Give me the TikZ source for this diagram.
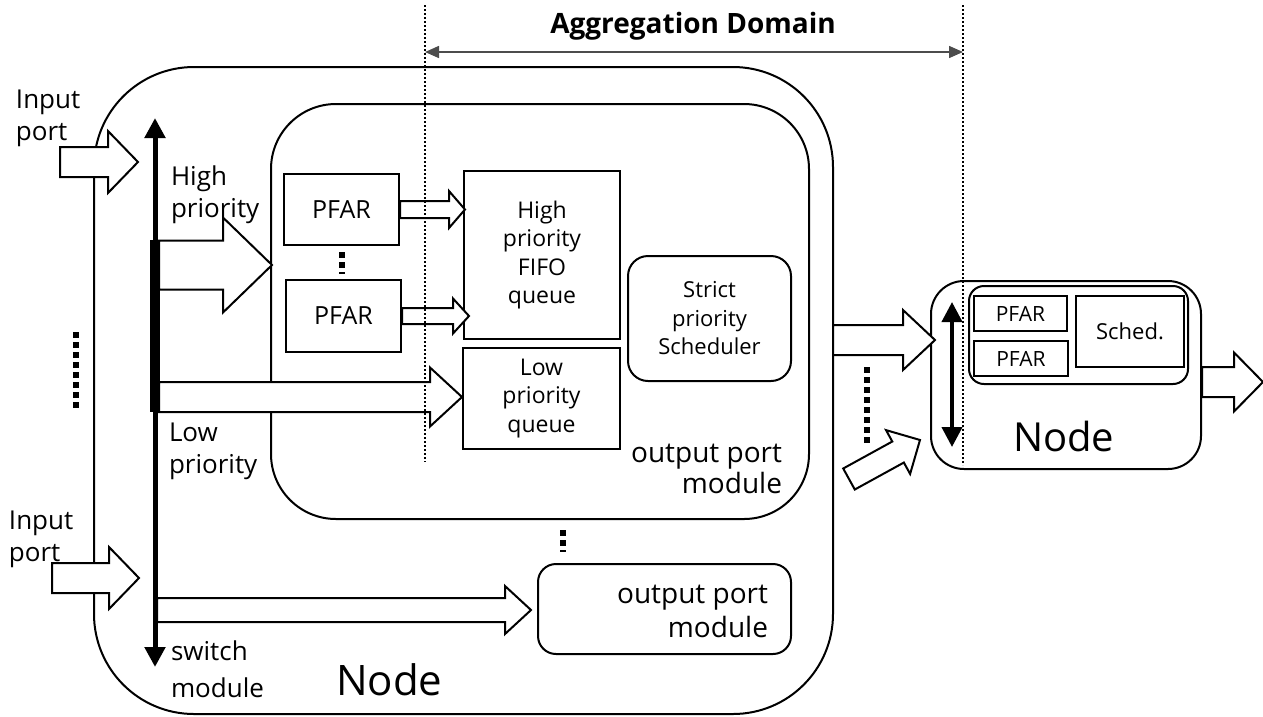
\documentclass[tikz,border=0pt]{standalone}
\usepackage{fontspec}
\setmainfont{Open Sans}
\usetikzlibrary{arrows.meta}
\tikzset{
  pics/harrow/.style n args={4}{code={
    \draw[line width=2pt, fill=white, line join=miter]
      (0,-#2) -- ({#1-#4},-#2) -- ({#1-#4},-#3) -- (#1,0) -- ({#1-#4},#3) -- ({#1-#4},#2) -- (0,#2) -- cycle;
  }},
}
\begin{document}
\begin{tikzpicture}[x=1pt,y=-1pt,line width=2pt,
  box/.style={draw, line width=2pt, anchor=north west, inner sep=0pt, align=center, font=\fontsize{23}{28.5}\selectfont},
  rbox/.style={box, rounded corners=#1},
  lbl/.style={inner sep=0pt, align=left, font=\fontsize{26}{32}\selectfont},
  dotcol/.style={line width=6pt, dash pattern=on 6pt off 4pt},
  domline/.style={line width=1.6pt, dash pattern=on 2pt off 2pt},
  bigtip/.style={{Triangle[length=20pt,width=20pt]}-{Triangle[length=20pt,width=20pt]}},
]
\useasboundingbox (0,0) rectangle (1263,716);

% outer node
\node[rbox=100pt, minimum width=739pt, minimum height=647pt] (outer) at (93,66) {};
% output port module (big)
\node[rbox=65pt, minimum width=538pt, minimum height=415pt] (opm) at (270,103) {};
% PFAR boxes
\node[box, minimum width=115pt, minimum height=71pt, font=\fontsize{25}{30}\selectfont] (pfar1) at (283,173) {PFAR};
\node[box, minimum width=115pt, minimum height=72pt, font=\fontsize{25}{30}\selectfont] (pfar2) at (285,279) {PFAR};
% queues
\node[box, minimum width=156pt, minimum height=168pt] (hq) at (463,170) {High\\priority\\FIFO\\queue};
\node[box, minimum width=157pt, minimum height=101pt] (lq) at (462,347) {Low\\priority\\queue};
\node[rbox=20pt, minimum width=163pt, minimum height=125pt, font=\fontsize{22}{28.5}\selectfont] (sched) at (627,255) {Strict\\priority\\Scheduler};
% lower output port module
\node[rbox=18pt, minimum width=253pt, minimum height=90pt] (opm2) at (537,563) {};

% texts
\node[lbl, anchor=north west] (in1) at (15,89) {Input\\port};
\node[lbl, anchor=north west] (in2) at (8,510) {Input\\port};
\node[lbl, anchor=north west] (hp) at (170,165) {High\\priority};
\node[lbl, anchor=north west] (lp) at (168,422) {Low\\priority};
\node[lbl, anchor=north west, font=\fontsize{26}{37}\selectfont] (swm) at (170,640) {switch\\module};
\node[lbl, anchor=south east, align=right, font=\fontsize{28}{31}\selectfont] (opmt) at (783,495) {output port\\module};
\node[lbl, anchor=south east, align=right, font=\fontsize{28}{34}\selectfont] (opm2t) at (769,639) {output port\\module};
\node[inner sep=0pt, anchor=base west, font=\fontsize{42}{48}\selectfont] (nodeL) at (335,695) {Node};
\node[inner sep=0pt, anchor=base, font=\bfseries\fontsize{28}{32}\selectfont] (agg) at (693,33) {Aggregation Domain};

% switch module arrow
\draw[line width=5pt, bigtip] (155,118) -- (155,667);
\fill (150,240) rectangle (160,412);

% block arrows
\pic at (60,162) {harrow={78}{15}{31}{30}};
\pic at (52,578) {harrow={87}{15}{31}{30}};
\pic at (159,265) {harrow={113}{24.5}{47.5}{49}};
\pic at (159,397) {harrow={303}{15}{29.5}{32}};
\pic at (pfar1.east) {harrow={65}{8.5}{18.5}{16}};
\pic at (pfar2.east) {harrow={67}{8}{17.5}{16}};
\pic at (157,610) {harrow={374}{12}{24}{26}};

% dots
\draw[dotcol] (76,332) -- (76,408);
\draw[dotcol] (342,252) -- (342,274);
\draw[dotcol] (563,530) -- (563,552);
\draw[dotcol] (867,367) -- (867,443);

% right node
\node[rbox=33pt, minimum width=270pt, minimum height=188pt] (rnode) at (930,280) {};
\node[rbox=15pt, minimum width=219pt, minimum height=98pt] (rin) at (968,285) {};
\node[box, minimum width=93pt, minimum height=35pt, font=\fontsize{21}{24}\selectfont] (rp1) at (973,295) {PFAR};
\node[box, minimum width=94pt, minimum height=35pt, font=\fontsize{21}{24}\selectfont] (rp2) at (973,340) {PFAR};
\node[box, minimum width=108pt, minimum height=71pt, font=\fontsize{22}{26}\selectfont] (rs) at (1075,295) {Sched.};
\node[inner sep=0pt, anchor=base west, font=\fontsize{40}{46}\selectfont] (nodeR) at (1012,451) {Node};
\draw[line width=4pt, bigtip] (952,302) -- (952,447);

\pic at (833,340) {harrow={102}{15}{30}{32}};
\pic[rotate=28.8] at (849,479) {harrow={81}{12}{25}{25}};
\pic at (rnode.east |- 0,382) {harrow={61}{15}{29.5}{29}};

% aggregation domain
\coordinate (agL) at (425,52);
\coordinate (agR) at (963,52);
\draw[domline] (425,5) -- (425,462);
\draw[domline] (963,5) -- (963,465);
\draw[gray!60!black, line width=1.5pt, {Triangle[length=14pt,width=12pt]}-{Triangle[length=14pt,width=12pt]}] (agL) -- (agR);
\end{tikzpicture}
\end{document}
